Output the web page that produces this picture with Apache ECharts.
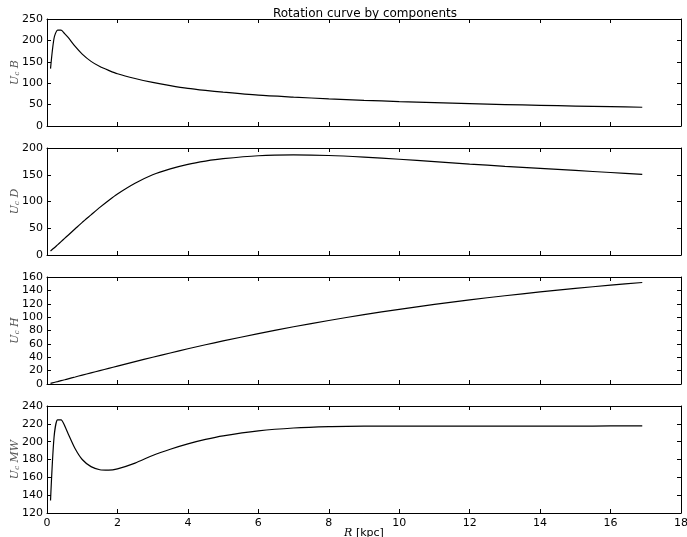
<!DOCTYPE html>
<html>
<head>
<meta charset="utf-8">
<script src="https://cdn.jsdelivr.net/npm/echarts@6/dist/echarts.min.js"></script>
<style>
  html, body { margin: 0; padding: 0; background: #fff; }
  #main { width: 687px; height: 537px; }
</style>
</head>
<body>
<div id="main"></div>
<script>
// radius samples (kpc), shared by all panels
const radius = [0.1, 0.2, 0.3, 0.4, 0.5, 0.6, 0.8, 1.0, 1.25, 1.5, 1.75, 2, 2.5, 3, 3.5, 4, 4.5, 5, 6, 7, 8, 9, 10, 11, 12, 13, 14, 15, 16, 16.9];
// rotation velocity by component
const bulge = [134, 205, 224, 224, 216, 207, 186, 168, 151, 139, 130, 122, 111, 102, 94.5, 88, 83.2, 79, 72, 67.5, 63.5, 60.1, 57.1, 54.5, 52.2, 50.1, 48.2, 46.6, 45.1, 43.8];
const disk = [7.5, 13, 19, 25, 31, 37, 49, 61, 75, 89, 102, 114, 134, 150, 161, 169.5, 175.5, 180, 185.5, 187, 186, 183, 179, 174.5, 170, 165.8, 161.8, 158, 154.2, 150.8];
const halo = [1, 2.3, 3.6, 5, 6.3, 7.7, 10.5, 13.3, 16.7, 20, 23.4, 26.8, 33.4, 40, 46.4, 52.7, 58.7, 64.4, 75.4, 85.6, 95, 103.7, 111.7, 119, 125.8, 132, 137.7, 143, 147.8, 151.8];
const milkyWay = [134, 205, 224.5, 224.5, 218, 209, 192, 180, 172, 168.5, 168, 169.5, 176, 184.5, 191.5, 197.5, 202.5, 206.5, 212, 215.3, 216.9, 217.4, 217.5, 217.5, 217.5, 217.5, 217.5, 217.5, 217.6, 217.8];

// y axis ranges: [min, max, step]
const yRanges = [[0, 250, 50], [0, 200, 50], [0, 160, 20], [120, 240, 20]];
const yNames = ['B', 'D', 'H', 'MW'];
const xTicks = [0, 18, 2];

const myChart = echarts.init(document.getElementById('main'));

const panels = [bulge, disk, halo, milkyWay];
const tops = [19, 148, 277, 406];

const frame = { show: true, onZero: false, lineStyle: { color: '#000', width: 1 } };
const tick = { show: true, inside: true, length: 4, lineStyle: { color: '#000' } };
const nameRich = {
  it: { fontStyle: 'italic', fontFamily: 'DejaVu Serif', fontSize: 11, color: '#555' },
  sub: { fontStyle: 'italic', fontFamily: 'DejaVu Serif', fontSize: 7, color: '#555', padding: [5, 0, 0, 0] }
};

const grids = [], xAxes = [], yAxes = [], series = [];
panels.forEach((vals, i) => {
  grids.push({ left: 47, right: 6, top: tops[i], height: 107, outerBoundsMode: 'none', containLabel: false });
  const last = i === panels.length - 1;
  xAxes.push({
    type: 'value', gridIndex: i, position: 'bottom',
    min: xTicks[0], max: xTicks[1], interval: xTicks[2],
    axisLine: frame, axisTick: tick, splitLine: { show: false },
    axisLabel: { show: last, color: '#000', fontSize: 11, fontFamily: 'DejaVu Sans', margin: 5 },
    name: last ? '{it|R} [kpc]' : '',
    nameLocation: 'middle', nameGap: 15, nameMoveOverlap: false,
    nameTextStyle: { color: '#000', fontSize: 11, fontFamily: 'DejaVu Sans', rich: { it: { fontStyle: 'italic', fontFamily: 'DejaVu Serif', fontSize: 11 } } }
  });
  xAxes.push({
    type: 'value', gridIndex: i, position: 'top',
    min: xTicks[0], max: xTicks[1], interval: xTicks[2],
    axisLine: frame, axisTick: tick, splitLine: { show: false }, axisLabel: { show: false }
  });
  const r = yRanges[i];
  yAxes.push({
    type: 'value', gridIndex: i, position: 'left',
    min: r[0], max: r[1], interval: r[2],
    axisLine: frame, axisTick: tick, splitLine: { show: false },
    axisLabel: { color: '#000', fontSize: 11, fontFamily: 'DejaVu Sans', margin: 4 },
    name: '{it|U}{sub|c}{it| ' + yNames[i] + '}',
    nameLocation: 'middle', nameRotate: 90, nameGap: 26, nameMoveOverlap: false,
    nameTextStyle: { rich: nameRich }
  });
  yAxes.push({
    type: 'value', gridIndex: i, position: 'right',
    min: r[0], max: r[1], interval: r[2],
    axisLine: frame, axisTick: tick, splitLine: { show: false }, axisLabel: { show: false }
  });
  series.push({
    type: 'line', xAxisIndex: i * 2, yAxisIndex: i * 2,
    data: radius.map((x, k) => [x, vals[k]]),
    showSymbol: false, smooth: 0.25,
    lineStyle: { color: '#000', width: 1.2 },
    animation: false
  });
});

const option = {
  backgroundColor: '#fff',
  animation: false,
  title: {
    text: 'Rotation curve by components',
    left: 360, top: 3, textAlign: 'center',
    textStyle: { color: '#000', fontSize: 12, fontWeight: 'normal', fontFamily: 'DejaVu Sans' }
  },
  grid: grids,
  xAxis: xAxes,
  yAxis: yAxes,
  series: series
};
option && myChart.setOption(option);
</script>
</body>
</html>
